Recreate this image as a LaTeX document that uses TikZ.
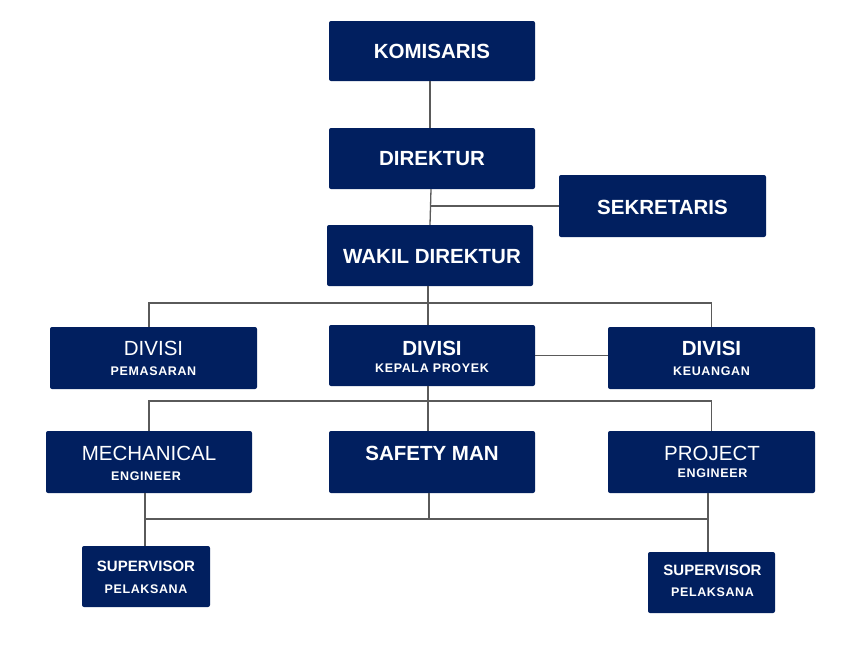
\documentclass[tikz,border=0pt]{standalone}
\usepackage{fontspec}
\setmainfont{Liberation Sans}
\newfontfamily\subfont[LetterSpace=5]{Liberation Sans}
\usetikzlibrary{calc}
\definecolor{navy}{RGB}{1,31,95}
\definecolor{linegray}{RGB}{90,90,90}
\tikzset{
  box/.style={fill=navy, draw=none, rounded corners=2pt, inner sep=0pt},
  ttl/.style={text=white, anchor=base, inner sep=0pt, font=\fontsize{20.5}{24}\selectfont\bfseries},
  ttlr/.style={text=white, anchor=base, inner sep=0pt, font=\fontsize{20.5}{24}\selectfont},
  ttls/.style={text=white, anchor=base, inner sep=0pt, font=\fontsize{15}{18}\selectfont\bfseries},
  sub/.style={text=white, anchor=base, inner sep=0pt, font=\subfont\fontsize{12.5}{15}\selectfont\bfseries},
  conn/.style={draw=linegray, line width=1.3pt},
}
\begin{document}
\begin{tikzpicture}[x=1pt,y=-1pt]
\useasboundingbox (0,0) rectangle (855,657);
% bus coordinates
\coordinate (b1) at (430,303);
\coordinate (b2) at (430,401);
\coordinate (b3) at (430,519);
\coordinate (sekj) at (431,206);
% boxes
\node[box, minimum width=206pt, minimum height=60pt] (kom) at (432,51) {};
\node[box, minimum width=206pt, minimum height=61pt] (dir) at (432,158.5) {};
\node[box, minimum width=207pt, minimum height=62pt] (sek) at (662.5,206) {};
\node[box, minimum width=206pt, minimum height=61pt] (wak) at (430,255.5) {};
\node[box, minimum width=207pt, minimum height=62pt] (pem) at (153.5,358) {};
\node[box, minimum width=206pt, minimum height=61pt] (kp) at (432,355.5) {};
\node[box, minimum width=207pt, minimum height=62pt] (keu) at (711.5,358) {};
\node[box, minimum width=206pt, minimum height=62pt] (mech) at (149,462) {};
\node[box, minimum width=206pt, minimum height=62pt] (safe) at (432,462) {};
\node[box, minimum width=207pt, minimum height=62pt] (proj) at (711.5,462) {};
\node[box, minimum width=128pt, minimum height=61pt] (sup1) at (146,576.5) {};
\node[box, minimum width=127pt, minimum height=61pt] (sup2) at (711.5,582.5) {};
% connectors
\draw[conn] ($(kom.south)+(-2,0)$) -- ($(dir.north)+(-2,0)$);
\draw[conn] ($(dir.south)+(-1,0)$) -- (wak.north);
\draw[conn] (sek.west) -- (sekj);
\draw[conn] ($(wak.south)+(-2,0)$) -- ($(kp.north)+(-4,0)$);
\draw[conn] ($(pem.north)+(-4.5,0)$) |- (b1) -| (keu.north);
\draw[conn] (kp.east) -- (kp.east -| keu.west);
\draw[conn] ($(kp.south)+(-4,0)$) -- ($(safe.north)+(-4,0)$);
\draw[conn] (mech.north) |- (b2) -| (proj.north);
\draw[conn] ($(mech.south)+(-4,0)$) -- ($(sup1.north)+(-1,0)$);
\draw[conn] ($(safe.south)+(-3,0)$) -- ($(b3)+(-1,0)$);
\draw[conn] ($(b3)+(-285,0)$) -- ($(b3)+(278,0)$);
\draw[conn] ($(proj.south)+(-3.5,0)$) -- ($(sup2.north)+(-3.5,0)$);
% texts
\node[ttl] (t1) at (432,58) {KOMISARIS};
\node[ttl] (t2) at (432,165) {DIREKTUR};
\node[ttl] (t3) at (662.5,214) {SEKRETARIS};
\node[ttl] (t4) at (432,263) {WAKIL DIREKTUR};
\node[ttlr] (t5) at (153.5,355) {DIVISI};
\node[sub] (t6) at (153.5,375) {PEMASARAN};
\node[ttl] (t7) at (432,355) {DIVISI};
\node[sub] (t8) at (432,372) {KEPALA PROYEK};
\node[ttl] (t9) at (711.5,355) {DIVISI};
\node[sub] (t10) at (711.5,375) {KEUANGAN};
\node[ttlr] (t11) at (149,460) {MECHANICAL};
\node[sub] (t12) at (146,480) {ENGINEER};
\node[ttl] (t13) at (432,460) {SAFETY MAN};
\node[ttlr] (t14) at (712,460) {PROJECT};
\node[sub] (t15) at (712.5,477) {ENGINEER};
\node[ttls] (t16) at (146,571) {SUPERVISOR};
\node[sub] (t17) at (146,593) {PELAKSANA};
\node[ttls] (t18) at (712.5,575) {SUPERVISOR};
\node[sub] (t19) at (712.5,596) {PELAKSANA};
\end{tikzpicture}
\end{document}
